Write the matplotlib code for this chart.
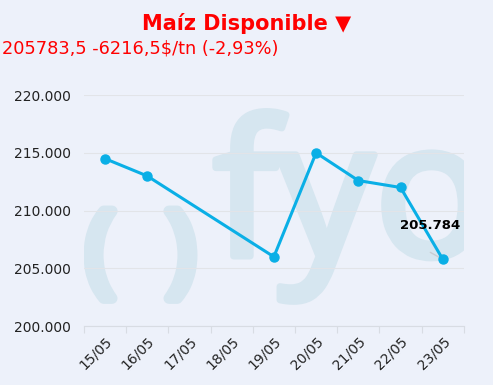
import numpy as np
import matplotlib.pyplot as plt
import matplotlib.patheffects as pe

# datos
fechas = ['15/05', '16/05', '17/05', '18/05', '19/05', '20/05', '21/05', '22/05', '23/05']
precios = [214500, 213000, np.nan, np.nan, 206000, 215000, 212600, 212000, 205783.5]
yticks = [200000, 205000, 210000, 215000, 220000]
ylbls = ['200.000', '205.000', '210.000', '215.000', '220.000']

bg = '#EDF1FA'
azul = '#0AAFE6'
marca = '#D6E6F0'

fig = plt.figure(figsize=(4.93, 3.85), dpi=100, facecolor=bg)
ax = fig.add_axes([0.170, 0.153, 0.771, 0.600], facecolor=bg)

# marca de agua (detras de la grilla, recortada al area del grafico)
grueso = [pe.withStroke(linewidth=5, foreground=marca)]
ax.text(0.432, 0.335, 'fyo', transform=fig.transFigure, fontsize=136, family='Noto Sans',
        color=marca, ha='left', va='baseline', zorder=0.5, clip_on=True, path_effects=grueso)
ax.text(0.203, 0.335, '(', transform=fig.transFigure, fontsize=72, family='Noto Sans',
        color=marca, ha='center', va='center', zorder=0.5, clip_on=True,
        path_effects=[pe.withStroke(linewidth=8, foreground=marca)])
ax.text(0.367, 0.335, ')', transform=fig.transFigure, fontsize=72, family='Noto Sans',
        color=marca, ha='center', va='center', zorder=0.5, clip_on=True,
        path_effects=[pe.withStroke(linewidth=8, foreground=marca)])

x = np.arange(len(fechas))
ok = ~np.isnan(precios)
ax.plot(x[ok], np.array(precios)[ok], color=azul, lw=2.2, marker='o', ms=6.5, zorder=3)

ult = len(fechas) - 1
ax.annotate('', (x[ult], precios[ult]), xytext=(-9, 5), textcoords='offset points',
            arrowprops=dict(arrowstyle='-', color='#C8CCD2', lw=1, shrinkA=0, shrinkB=2), zorder=2)
ax.annotate('205.784', (x[ult], precios[ult]), xytext=(-9, 24), textcoords='offset points',
            ha='center', va='center', fontsize=9.5, fontweight='bold', color='black', zorder=4)

ax.set_xlim(-0.5, len(fechas) - 0.5)
ax.set_ylim(200000, 220000)
ax.set_yticks(yticks)
ax.set_yticklabels(ylbls, fontsize=10, color='#222222')
ax.set_xticks(np.arange(len(fechas) + 1) - 0.5)
ax.set_xticklabels([])
ax.set_xticks(x, minor=True)
ax.set_xticklabels(fechas, minor=True, rotation=45, ha='right', rotation_mode='anchor',
                   fontsize=10, color='#222222')
ax.tick_params(axis='x', which='major', length=5, color='#D8DCE3')
ax.tick_params(axis='x', which='minor', length=0, pad=6)
ax.tick_params(axis='y', length=0, pad=9)
ax.grid(axis='y', color='#E2E4E8', lw=0.8)
for s in ['top', 'right', 'left']:
    ax.spines[s].set_visible(False)
ax.spines['bottom'].set_color('#D8DCE3')

fig.text(0.5, 0.94, 'Maíz Disponible ▼', ha='center', va='center', fontsize=15,
         fontweight='bold', color='#FF0000')
fig.text(0.005, 0.873, '205783,5 -6216,5$/tn (-2,93%)', ha='left', va='center',
         fontsize=12.8, color='#FF0000')

plt.savefig('out.png', dpi=100, facecolor=bg)
